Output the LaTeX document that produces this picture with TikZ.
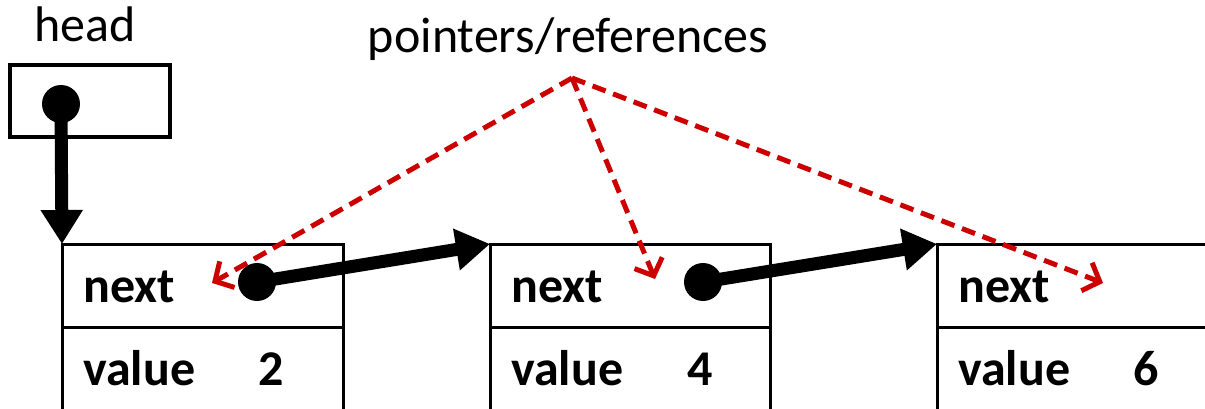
\documentclass[tikz,border=0pt]{standalone}
\usepackage{fontspec}
\setmainfont{Carlito}
\usetikzlibrary{arrows.meta}
\definecolor{ptrred}{RGB}{204,0,0}
\tikzset{
  cell/.style={draw, line width=3pt, rectangle, inner sep=0pt, outer sep=0pt, anchor=north west},
  headbox/.style={draw, line width=4.5pt, rectangle, inner sep=0pt, outer sep=0pt, minimum width=160pt, minimum height=72pt},
  lbl/.style={anchor=base west, inner sep=0pt, font=\fontsize{50}{60}\selectfont\bfseries},
  title/.style={anchor=base, inner sep=0pt, font=\fontsize{50}{60}\selectfont},
  dot/.style={fill=black, circle, inner sep=0pt, minimum size=38pt},
  link/.style={line width=13pt, -{Triangle[length=34pt,width=40pt]}},
  refarrow/.style={ptrred, line width=5pt, dash pattern=on 14pt off 8pt, -{Straight Barb[length=14pt,width=30pt,line width=5pt]}}
}
\begin{document}
\begin{tikzpicture}[x=1pt,y=-1pt]
\useasboundingbox (0,0) rectangle (1205,409);
\clip (0,0) rectangle (1205,409);
% titles
\node[title] (headlbl) at (85,42) {head};
\node[title] (ptrlbl) at (568,53) {pointers/references};
% head box
\node[headbox] (head) at (90,101) {};
% cells
\node[cell, minimum width=281pt, minimum height=83pt] (next1) at (62,244) {};
\node[cell, minimum width=281pt, minimum height=100pt] (value1) at (62,327) {};
\node[cell, minimum width=280pt, minimum height=83pt] (next2) at (490,244) {};
\node[cell, minimum width=280pt, minimum height=100pt] (value2) at (490,327) {};
\node[cell, minimum width=300pt, minimum height=83pt] (next3) at (937,244) {};
\node[cell, minimum width=300pt, minimum height=100pt] (value3) at (937,327) {};
% labels
\node[lbl] (n1) at (83,302) {next};
\node[lbl] (v1) at (83,385) {value};
\node[lbl] (k1) at (258,385) {2};
\node[lbl] (n2) at (511,302) {next};
\node[lbl] (v2) at (511,385) {value};
\node[lbl] (k2) at (687,385) {4};
\node[lbl] (n3) at (958,302) {next};
\node[lbl] (v3) at (958,385) {value};
\node[lbl] (k3) at (1133,385) {6};
% dots
\node[dot] (d0) at (61,104) {};
\node[dot] (d1) at (257,282) {};
\node[dot] (d2) at (703,282) {};
% links
\draw[link] (d0.center) -- (next1.north west);
\draw[link] (d1.center) -- (next2.north west);
\draw[link] (d2.center) -- (next3.north west);
% references
\coordinate (ptr) at (572,78);
\coordinate (t1) at (212,283);
\coordinate (t2) at (655,279);
\coordinate (t3) at (1103,283);
\draw[refarrow] (ptr) -- (t1);
\draw[refarrow] (ptr) -- (t2);
\draw[refarrow] (ptr) -- (t3);
\end{tikzpicture}
\end{document}
